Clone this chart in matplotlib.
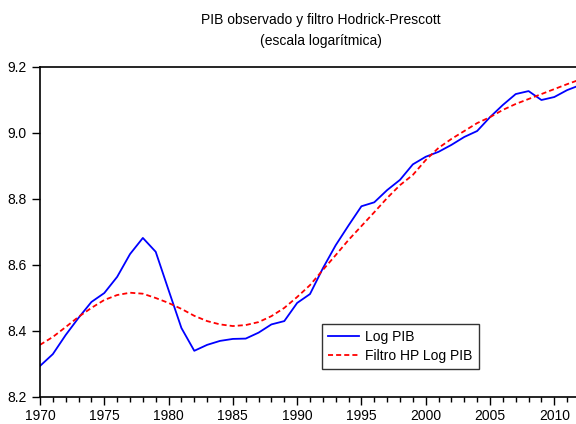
import matplotlib
matplotlib.use('Agg')
from matplotlib import pyplot as plt
from matplotlib.ticker import MultipleLocator, FormatStrFormatter

plt.rcParams['font.family'] = ['Liberation Sans', 'DejaVu Sans']

years = list(range(1970, 2013))
log_pib = [8.294, 8.330, 8.388, 8.440, 8.488, 8.515, 8.564, 8.633, 8.682, 8.640,
           8.524, 8.409, 8.340, 8.358, 8.370, 8.376, 8.377, 8.395, 8.420, 8.430,
           8.485, 8.512, 8.590, 8.660, 8.720, 8.778, 8.790, 8.827, 8.858, 8.905,
           8.928, 8.943, 8.964, 8.988, 9.006, 9.048, 9.085, 9.118, 9.127, 9.100,
           9.109, 9.130, 9.145]
hp_log_pib = [8.358, 8.382, 8.412, 8.443, 8.470, 8.494, 8.509, 8.516, 8.513, 8.500,
              8.485, 8.467, 8.446, 8.430, 8.420, 8.415, 8.418, 8.427, 8.445, 8.470,
              8.503, 8.539, 8.585, 8.630, 8.676, 8.718, 8.760, 8.803, 8.842, 8.873,
              8.918, 8.955, 8.982, 9.006, 9.030, 9.048, 9.070, 9.088, 9.103, 9.118,
              9.133, 9.148, 9.162]

fig = plt.figure(figsize=(5.76, 4.24), dpi=100)
ax = fig.add_axes([40/576, 1-397/424, 540/576, 330/424])

ax.plot(years, log_pib, color='#0000ff', linewidth=1.3, label='Log PIB')
ax.plot(years, hp_log_pib, color='#ff0000', linewidth=1.3, linestyle=(0, (2.8, 1.7)), label='Filtro HP Log PIB')

ax.set_xlim(1970, 2012)
ax.set_ylim(8.2, 9.2)
ax.xaxis.set_major_locator(MultipleLocator(5))
ax.xaxis.set_minor_locator(MultipleLocator(1))
ax.yaxis.set_major_locator(MultipleLocator(0.2))
ax.yaxis.set_major_formatter(FormatStrFormatter('%.1f'))
ax.tick_params(axis='y', which='major', direction='out', length=6, width=1, labelsize=10, pad=3.5)
ax.tick_params(axis='x', which='major', direction='out', length=5.5, width=1, labelsize=10, pad=3.5)
ax.tick_params(axis='x', which='minor', direction='out', length=3.5, width=1)
ax.spines['right'].set_visible(False)
for s in ['left', 'top', 'bottom']:
    ax.spines[s].set_linewidth(1.2)

leg = ax.legend(loc='upper left', bbox_to_anchor=((322-40)/540, (397-324)/330), borderaxespad=0,
                fontsize=10, frameon=True, fancybox=False, edgecolor='black',
                handlelength=2.2, borderpad=0.45, labelspacing=0.35, handletextpad=0.45)
leg.get_frame().set_linewidth(1.0)

fig.text(321/576, 1-20/424, 'PIB observado y filtro Hodrick-Prescott', ha='center', va='center', fontsize=10)
fig.text(321/576, 1-41/424, '(escala logarítmica)', ha='center', va='center', fontsize=10)

fig.savefig('out.png', dpi=100)
